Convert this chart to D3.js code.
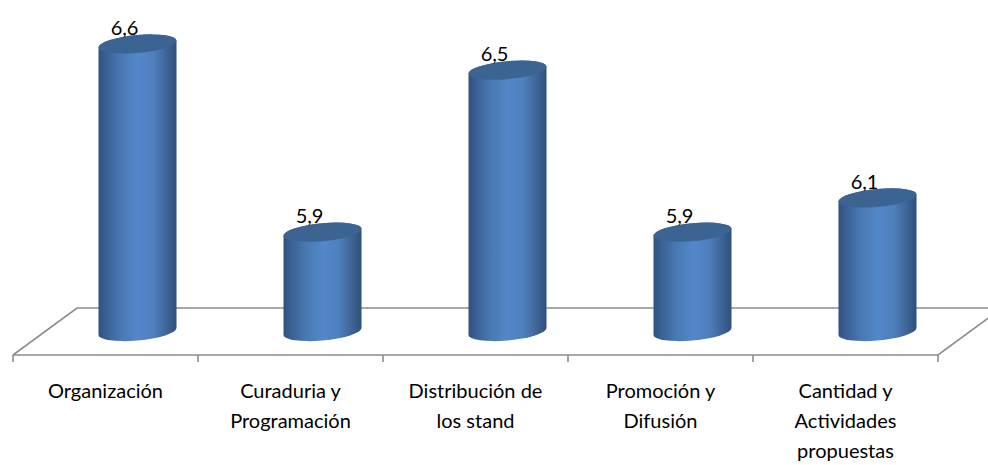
<!DOCTYPE html>
<html>
<head>
<meta charset="utf-8">
<script src="https://cdn.jsdelivr.net/npm/d3@7"></script>
<style>
	html, body { margin: 0; padding: 0; background: #fff; overflow: hidden; }
	text { font-family: Lato, "Open Sans", sans-serif; fill: #000; }
	.axis path, .axis line { display: none; }
</style>
</head>
<body>
<svg id="chart" width="988" height="465"></svg>
<script>
"use strict";

var categories = ["Organización", "Curaduria y\nProgramación", "Distribución de\nlos stand", "Promoción y\nDifusión", "Cantidad y\nActividades\npropuestas"];
var values = [6.64, 5.92, 6.54, 5.92, 6.051];

var left = 13, right = 938, floorFront = 355,
	depthX = 64, depthY = 47,
	barHalf = 39, capRy = 9;

var svg = d3.select("#chart");
var comma = function(v) { return d3.format(".1f")(v).replace(".", ","); };

var x = d3.scaleBand().domain(categories).range([left, right]);
// Axis floor sits half way into the 3D depth
var y = d3.scaleLinear().domain([5.54, 6.64]).range([floorFront - depthY / 2, 44]);

// Cylinder shading
var grad = svg.append("defs").append("linearGradient").attr("id", "cyl");
[[0, "#2f5180"], [0.12, "#3b6497"], [0.3, "#4a7ab5"], [0.5, "#5387c9"], [0.7, "#4f80bf"], [0.85, "#41699c"], [1, "#2f4f7b"]].forEach(function(s) {
	grad.append("stop").attr("offset", s[0]).attr("stop-color", s[1]);
});

// Floor
var floor = svg.append("g").attr("fill", "none").attr("stroke", "#8c8c8c").attr("stroke-width", 1.6);
floor.append("path").attr("d", d3.line()([[left, floorFront], [left + depthX, floorFront - depthY], [right + depthX, floorFront - depthY]]));
floor.append("path").attr("d", d3.line()([[left, floorFront], [right, floorFront], [right + depthX, floorFront - depthY]]));

var edges = categories.map(function(d) { return x(d); }).concat([right]);
floor.selectAll(".tick-mark").data(edges).enter().append("line")
	.attr("class", "tick-mark")
	.attr("x1", function(d) { return d; })
	.attr("x2", function(d) { return d; })
	.attr("y1", floorFront)
	.attr("y2", floorFront + 7);

// Category labels
var axis = svg.append("g")
	.attr("class", "axis")
	.attr("transform", "translate(0," + floorFront + ")")
	.call(d3.axisBottom(x).tickSize(0));

axis.selectAll("text").each(function(d) {
	var t = d3.select(this).text(null).attr("y", 43).attr("dy", null)
		.style("font-size", "20px").style("font-family", null).attr("font-family", null);
	d.split("\n").forEach(function(line, i) {
		t.append("tspan").attr("x", 0).attr("y", 43 + i * 30).text(line);
	});
});

// Cylinders
var bars = svg.selectAll(".bar").data(categories).enter().append("g")
	.attr("class", "bar")
	.attr("transform", function(d, i) {
		return "translate(" + (x(d) + x.bandwidth() / 2 + depthX / 2) + "," + y(values[i]) + ") skewY(-5)";
	});

bars.append("path")
	.attr("fill", "url(#cyl)")
	.attr("d", function(d, i) {
		var h = y.range()[0] - y(values[i]);
		return "M" + (-barHalf) + ",0V" + h + "A" + barHalf + "," + capRy + " 0 0 0 " + barHalf + "," + h +
			"V0A" + barHalf + "," + capRy + " 0 0 0 " + (-barHalf) + ",0Z";
	});

bars.append("ellipse")
	.attr("rx", barHalf)
	.attr("ry", capRy)
	.attr("fill", "#3c6492");

// Data labels
svg.selectAll(".value").data(categories).enter().append("text")
	.attr("class", "value")
	.attr("x", function(d) { return x(d) + x.bandwidth() / 2 + 19; })
	.attr("y", function(d, i) { return y(values[i]) - 9; })
	.attr("text-anchor", "middle")
	.style("font-size", "20px")
	.text(function(d, i) { return comma(values[i]); });
</script>
</body>
</html>
